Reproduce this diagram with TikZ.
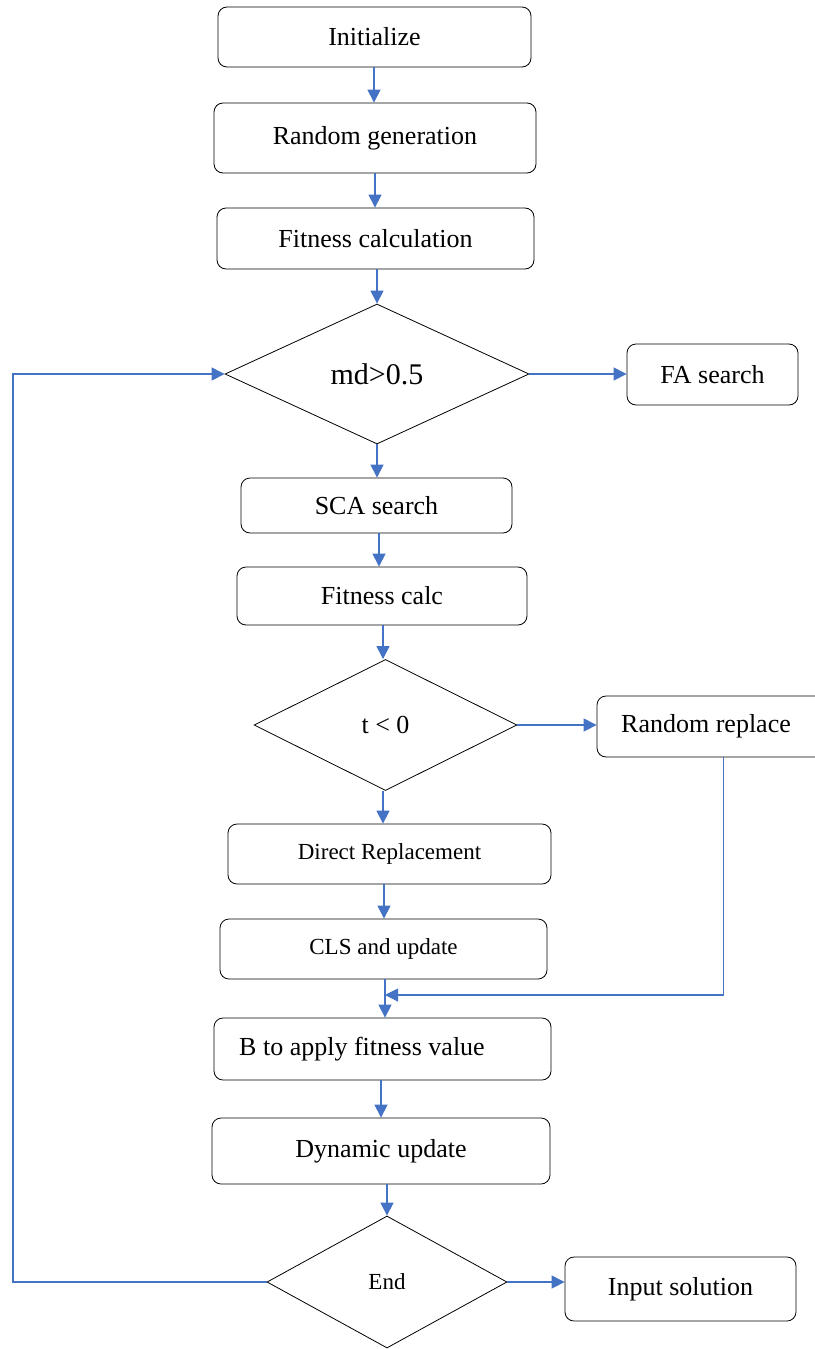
\documentclass[tikz,border=0pt]{standalone}
\usepackage{fontspec}
\setmainfont{Liberation Serif}
\usetikzlibrary{shapes.geometric,arrows.meta}
\definecolor{flowblue}{HTML}{4472C4}
\tikzset{
  box/.style={draw=black, line width=0.8pt, rounded corners=9pt, inner sep=0pt, font=\fontsize{26}{30}\selectfont},
  smallbox/.style={box, font=\fontsize{23}{27}\selectfont},
  dec/.style={draw=black, line width=0.8pt, diamond, inner sep=0pt, font=\fontsize{26}{30}\selectfont},
  flow/.style={draw=flowblue, line width=1.1pt, -{Triangle[length=13pt,width=13pt]}},
  plain/.style={draw=flowblue, line width=1.1pt}
}
\begin{document}
\begin{tikzpicture}[x=1pt,y=-1pt]
\useasboundingbox (0,0) rectangle (814,1349);
\node[box, minimum width=313pt, minimum height=60pt] (init) at (374.5,37) {Initialize};
\node[box, minimum width=322pt, minimum height=70pt] (rg) at (375,138) {Random generation};
\node[box, minimum width=317pt, minimum height=61pt] (fc) at (375.5,238.5) {Fitness calculation};
\node[dec, minimum width=304pt, minimum height=140pt, font=\fontsize{30}{34}\selectfont] (md) at (377,374) {md>0.5};
\node[box, minimum width=171pt, minimum height=61pt] (fa) at (712.5,374.5) {FA search};
\node[box, minimum width=271pt, minimum height=55pt] (sca) at (376.5,505.5) {SCA search};
\node[box, minimum width=290pt, minimum height=58pt] (fitc) at (382,596) {Fitness calc};
\node[dec, minimum width=263pt, minimum height=131pt] (tl) at (385.5,725) {t < 0};
\node[box, minimum width=253pt, minimum height=61pt] (rr) at (723.5,726.5) {Random replace\rule{35pt}{0pt}};
\node[smallbox, minimum width=323pt, minimum height=60pt] (dr) at (389.5,854) {Direct Replacement};
\node[smallbox, minimum width=327pt, minimum height=60pt] (cls) at (383.5,949) {CLS and update};
\node[box, minimum width=337pt, minimum height=62pt] (bb) at (382.5,1049) {B to apply fitness value\rule{41pt}{0pt}};
\node[box, minimum width=338pt, minimum height=66pt] (dyn) at (381,1151) {Dynamic update};
\node[dec, minimum width=240pt, minimum height=132pt, font=\fontsize{23}{27}\selectfont] (end) at (387,1282) {End};
\node[box, minimum width=231pt, minimum height=64pt] (inp) at (680.5,1289) {Input solution};
\coordinate (merge) at (385,995);
\coordinate (loopb) at (13,1282);
\coordinate (loopt) at (13,374);
\draw[flow] (init.south -| 374,0) -- (rg.north -| 374,0);
\draw[flow] (rg.south -| 375,0) -- (fc.north -| 375,0);
\draw[flow] (fc.south -| md.north) -- (md.north);
\draw[flow] (md.east) -- (md.east -| fa.west);
\draw[flow] (md.south) -- (md.south |- sca.north);
\draw[flow] (sca.south -| 379,0) -- (fitc.north -| 379,0);
\draw[flow] (fitc.south -| 383,0) -- (tl.north -| 383,0);
\draw[flow] (tl.east) -- (tl.east -| rr.west);
\draw[flow] (tl.south -| 383,0) -- (dr.north -| 383,0);
\draw[flow] (dr.south -| 384,0) -- (cls.north -| 384,0);
\draw[flow] (cls.south -| 385,0) -- (bb.north -| 385,0);
\draw[flow] (rr.south) |- (merge);
\draw[flow] (bb.south -| 381,0) -- (dyn.north -| 381,0);
\draw[flow] (dyn.south -| end.north) -- (end.north);
\draw[flow] (end.east) -- (end.east -| inp.west);
\draw[flow] (end.west) -- (loopb) -- (loopt) -- (md.west);
\end{tikzpicture}
\end{document}
